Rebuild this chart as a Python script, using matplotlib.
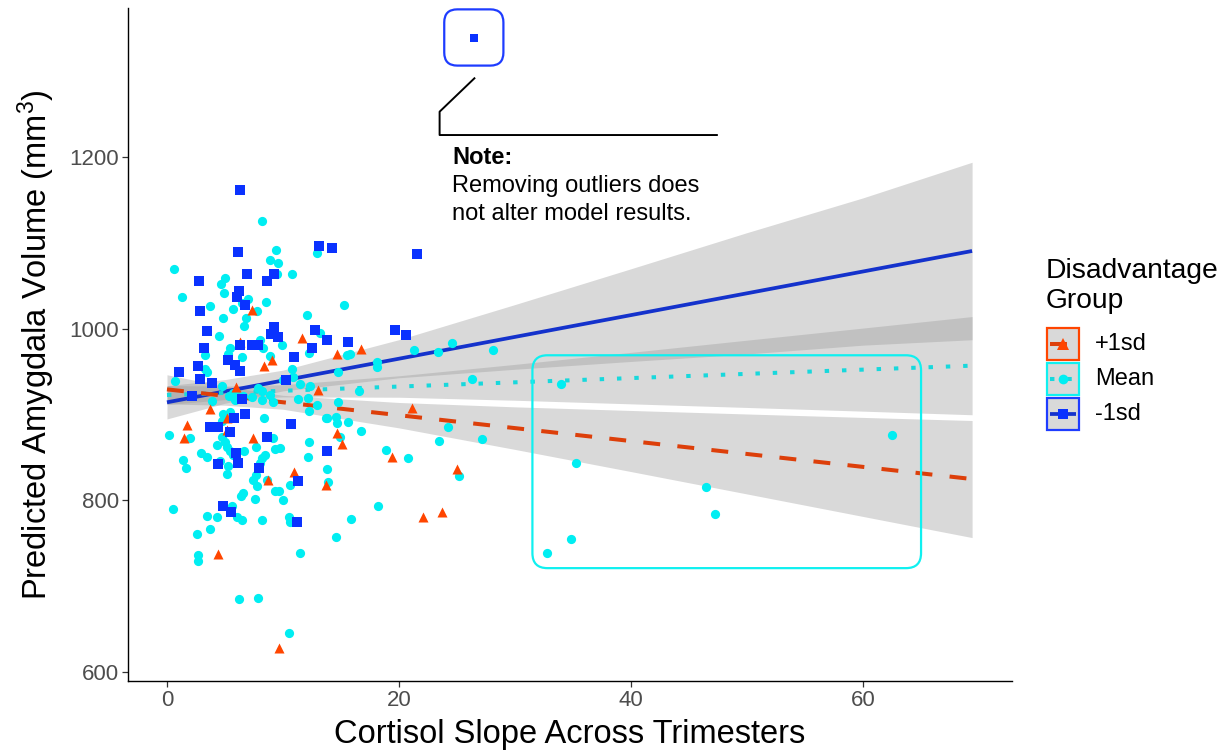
import matplotlib
matplotlib.use('Agg')
import matplotlib.pyplot as plt
from matplotlib.patches import FancyBboxPatch, Rectangle
from matplotlib.lines import Line2D
from matplotlib.transforms import IdentityTransform

plt.rcParams['font.family'] = ['Liberation Sans', 'DejaVu Sans']
plt.rcParams['mathtext.fontset'] = 'custom'
plt.rcParams['mathtext.rm'] = 'Liberation Sans'
plt.rcParams['mathtext.default'] = 'regular'

# ---------------- data ----------------
groups = ['+1sd', 'Mean', '-1sd']

plus_x = [7.35, 11.66, 9.03, 8.39, 5.95, 13.04, 3.71, 5.15, 1.70, 5.15, 1.49, 7.39,
          10.97, 8.73, 13.71, 4.37, 9.68, 14.63, 16.72, 21.09, 14.68, 15.11, 19.42,
          24.97, 22.09, 23.73, 6.29]
plus_y = [1022, 989, 963, 957, 932, 929, 906, 896, 888, 882, 873, 873,
          833, 824, 818, 738, 628, 971, 976, 908, 879, 866, 850,
          837, 780, 786, 985]

mean_x = [8.22, 9.37, 12.96, 8.88, 9.54, 0.60, 9.46, 10.78, 5.00, 4.63, 4.91, 1.27,
          6.98, 8.51, 6.47, 3.71, 5.72, 7.73, 12.09, 4.85, 6.81, 6.66, 13.19, 4.51,
          8.02, 5.43, 5.28, 3.28, 6.44, 8.88, 9.89, 3.28, 3.47, 10.75, 10.89, 0.69,
          4.72, 11.47, 7.87, 8.16, 8.88, 5.37, 6.58, 7.30, 9.16, 5.86, 11.32, 12.18,
          3.85, 12.24, 12.91, 4.85, 5.43, 13.77, 8.39, 4.72, 0.17, 1.98, 9.16, 4.72,
          5.00, 5.15, 5.43, 5.72, 4.34, 12.24, 7.67, 9.31, 9.74, 6.66, 2.91, 3.42,
          8.45, 8.16, 8.02, 12.18, 1.35, 1.64, 4.57, 5.28, 13.77, 5.15, 7.67, 7.44,
          8.65, 10.60, 7.73, 9.31, 9.68, 6.58, 6.35, 7.59, 10.03, 0.49, 5.63, 3.42,
          4.34, 6.06, 6.44, 8.16, 10.54, 10.60, 3.71, 2.61, 2.70, 2.70, 11.49, 6.18,
          7.87, 10.49, 15.26, 12.27, 15.49, 15.78, 21.32, 23.39, 24.59, 28.08, 18.08,
          18.08, 14.77, 26.27, 33.97, 12.33, 16.58, 13.71, 14.57, 14.68, 15.63, 16.70,
          24.25, 23.45, 27.18, 18.88, 20.80, 25.17, 13.91, 35.26, 18.22, 15.86, 14.57,
          34.80, 46.47, 47.24, 32.78, 62.50, 8.25, 10.02, 5.72, 8.22, 14.77, 14.91]
mean_y = [1125, 1092, 1088, 1080, 1076, 1070, 1064, 1064, 1059, 1052, 1041, 1037,
          1034, 1031, 1030, 1026, 1023, 1021, 1016, 1013, 1013, 1003, 995, 991,
          987, 977, 971, 969, 967, 968, 981, 953, 949, 953, 944, 939,
          933, 936, 931, 927, 923, 921, 921, 920, 914, 917, 918, 919,
          916, 904, 911, 901, 903, 896, 896, 893, 876, 873, 873, 874,
          868, 862, 857, 853, 864, 868, 862, 860, 861, 858, 855, 851,
          853, 849, 843, 850, 847, 838, 846, 840, 837, 831, 830, 824,
          824, 818, 817, 811, 811, 809, 805, 802, 800, 790, 793, 782,
          780, 781, 777, 777, 781, 775, 767, 761, 736, 729, 739, 685,
          686, 646, 1028, 972, 969, 970, 975, 973, 983, 975, 961,
          955, 949, 941, 936, 933, 927, 896, 897, 890, 891, 881,
          886, 869, 871, 859, 849, 828, 821, 843, 793, 778, 757,
          755, 816, 784, 739, 876, 977, 940, 925, 917, 915, 874]

minus_x = [6.29, 13.08, 14.25, 6.09, 6.92, 9.20, 2.76, 8.62, 6.18, 6.03, 6.75, 2.87,
           9.22, 12.78, 3.45, 8.99, 9.54, 13.77, 12.47, 3.19, 6.29, 7.30, 7.87, 10.97,
           5.28, 2.65, 5.86, 6.29, 1.03, 10.26, 2.84, 3.91, 2.16, 6.47, 6.72, 5.80,
           10.72, 3.71, 4.42, 5.43, 8.59, 13.77, 5.95, 4.42, 6.09, 7.93, 11.32, 4.85,
           5.49, 11.18, 15.63, 19.66, 20.60, 21.53]
minus_y = [1161, 1096, 1094, 1089, 1064, 1064, 1056, 1055, 1044, 1037, 1027, 1021,
           1002, 999, 997, 994, 990, 987, 977, 978, 981, 981, 981, 967,
           964, 957, 958, 951, 949, 940, 941, 937, 922, 918, 901, 896,
           889, 886, 885, 880, 874, 858, 855, 842, 843, 838, 822, 793,
           786, 775, 984, 998, 993, 1087]

outlier_x = [26.5]
outlier_y = [1339]

fit_x = [0, 69.4]
fit_plus = [929.3, 824.8]
fit_mean = [922.7, 956.9]
fit_minus = [914.2, 1090.5]

band_x = [0, 5, 10, 20, 30, 40, 50, 60, 69.4]
plus_lo = [912.3, 910.8, 906.1, 884.4, 859.3, 833.5, 807.4, 781.2, 756.6]
plus_hi = [946.3, 932.8, 922.3, 914.0, 908.9, 904.7, 900.6, 896.6, 893.0]
mean_lo = [911.7, 917.3, 920.5, 920.1, 916.6, 912.4, 908.2, 903.9, 899.7]
mean_hi = [933.7, 933.1, 934.7, 945.1, 958.4, 972.4, 986.6, 1000.7, 1014.1]
minus_lo = [894.8, 913.1, 927.5, 942.8, 952.7, 961.8, 970.5, 980.8, 987.1]
minus_hi = [933.6, 940.7, 951.7, 987.2, 1028.1, 1069.8, 1111.9, 1152.4, 1193.9]

x_ticks = [0, 20, 40, 60]
y_ticks = [600, 800, 1000, 1200]

# ---------------- style ----------------
W, H = 1227, 750
C_PLUS_PT, C_PLUS_LN = '#FF4500', '#DD3F0A'
C_MEAN_PT, C_MEAN_LN = '#00EEF2', '#18D8DC'
C_MINUS_PT, C_MINUS_LN = '#0A32FF', '#1432CC'
RIB = '#999999'

fig = plt.figure(figsize=(W / 100, H / 100), dpi=100)
ax = fig.add_axes([128 / W, 69 / H, 884 / W, 673 / H])
ax.set_xlim(-3.36, 72.84)
ax.set_ylim(589.5, 1373.6)

for lo, hi in [(minus_lo, minus_hi), (mean_lo, mean_hi), (plus_lo, plus_hi)]:
    ax.fill_between(band_x, lo, hi, color=RIB, alpha=0.37, lw=0, zorder=1)

ax.plot(fit_x, fit_minus, color=C_MINUS_LN, lw=2.7, solid_capstyle='butt', zorder=2)
ax.plot(fit_x, fit_mean, color=C_MEAN_LN, lw=2.9, dashes=(1.1, 3.2),
        dash_capstyle='butt', zorder=2)
ax.plot(fit_x, fit_plus, color=C_PLUS_LN, lw=2.9, dashes=(4.2, 4.3),
        dash_capstyle='butt', zorder=2)

ax.scatter(mean_x, mean_y, s=44, marker='o', color=C_MEAN_PT, lw=0, zorder=3)
ax.scatter(plus_x, plus_y, s=52, marker='^', color=C_PLUS_PT, lw=0, zorder=3)
ax.scatter(minus_x, minus_y, s=42, marker='s', color=C_MINUS_PT, lw=0, zorder=3)
ax.scatter(outlier_x, outlier_y, s=26, marker='s', color=C_MINUS_PT, lw=0, zorder=3,
           clip_on=False)

# axes styling (classic theme)
for s in ['top', 'right']:
    ax.spines[s].set_visible(False)
for s in ['left', 'bottom']:
    ax.spines[s].set_linewidth(1.0)
    ax.spines[s].set_color('black')
ax.set_xticks(x_ticks)
ax.set_yticks(y_ticks)
ax.tick_params(axis='both', length=4, width=0.9, color='#333333',
               labelcolor='#4D4D4D', labelsize=16, pad=2.5)
ax.set_xlabel('Cortisol Slope Across Trimesters', fontsize=23.5, labelpad=6)
ax.set_ylabel('Predicted Amygdala Volume (mm$^3$)', fontsize=23.5, labelpad=9)

fig.canvas.draw()


def rounded_box(x0, y0, x1, y1, r_px, color, lw):
    (px0, py0) = ax.transData.transform((x0, y0))
    (px1, py1) = ax.transData.transform((x1, y1))
    p = FancyBboxPatch((px0, py0), px1 - px0, py1 - py0,
                       boxstyle=f"round,pad=0,rounding_size={r_px}",
                       transform=IdentityTransform(), fill=False,
                       ec=color, lw=lw, zorder=5)
    fig.add_artist(p)


# highlight boxes
rounded_box(31.5, 721.0, 65.0, 969.0, 15, '#10F0F0', 1.6)
rounded_box(23.9, 1306.5, 29.0, 1372.0, 13, '#1E3CFF', 1.6)

# connector and note
ax.plot([26.5, 23.5, 23.5, 47.4], [1291.7, 1252.8, 1225.6, 1225.6],
        color='black', lw=1.4, clip_on=False, zorder=5)
ax.text(24.6, 1200, 'Note:', fontsize=17, fontweight='bold', va='center',
        ha='left', color='black')
ax.text(24.6, 1166, 'Removing outliers does', fontsize=17, va='center',
        ha='left', color='black')
ax.text(24.6, 1133.5, 'not alter model results.', fontsize=17, va='center',
        ha='left', color='black')

# ---------------- legend (manual, ggplot style) ----------------
def fx(px):
    return px / W


def fy(py):
    return 1 - py / H


fig.text(fx(1046), fy(271.5), 'Disadvantage', fontsize=20.3, va='center', ha='left')
fig.text(fx(1046), fy(301.5), 'Group', fontsize=20.3, va='center', ha='left')

keys = [
    (groups[0], 327.7, C_PLUS_PT, C_PLUS_LN, '^', dict(dashes=(4.2, 4.3)), 8),
    (groups[1], 362.7, '#10F0F0', C_MEAN_LN, 'o', dict(dashes=(1.1, 3.2)), 7),
    (groups[2], 397.7, '#1E3CFF', C_MINUS_LN, 's', dict(), 6.5),
]
for label, top, bcol, lcol, mk, ls, ms in keys:
    r = Rectangle((fx(1047), fy(top + 32.5)), 32 / W, 32.5 / H,
                  transform=fig.transFigure, facecolor='#D9D9D9',
                  edgecolor=bcol, lw=1.6)
    fig.add_artist(r)
    yc = fy(top + 16.25)
    ln = Line2D([fx(1050), fx(1076)], [yc, yc], transform=fig.transFigure,
                color=lcol, lw=2.9 if ls else 2.7, solid_capstyle='butt',
                dash_capstyle='butt', **ls)
    fig.add_artist(ln)
    mcol = {'^': C_PLUS_PT, 'o': C_MEAN_PT, 's': C_MINUS_PT}[mk]
    mk_art = Line2D([fx(1063)], [yc], transform=fig.transFigure, marker=mk,
                    markersize=ms, color=mcol, lw=0, markeredgewidth=0)
    fig.add_artist(mk_art)
    fig.text(fx(1095), yc, label, fontsize=17, va='center', ha='left')

fig.savefig('out.png', dpi=100)
